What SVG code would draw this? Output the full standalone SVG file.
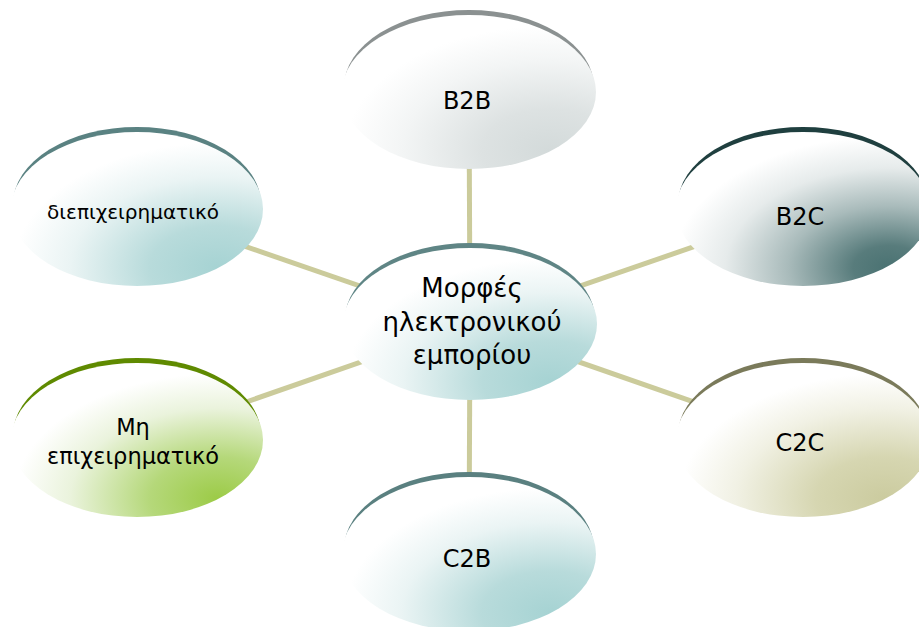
<svg xmlns="http://www.w3.org/2000/svg" width="919" height="627" viewBox="0 0 919 627">
<style>
.lbl{font-family:"DejaVu Sans","Noto Sans",sans-serif;fill:#000;text-anchor:middle;dominant-baseline:central}
.conn{stroke:#cbcb9b;stroke-width:5;fill:none}
</style>
<defs>
<radialGradient id="gGray" cx="0.82" cy="0.88" r="0.9">
<stop offset="0" stop-color="#d3dada"/><stop offset="0.3" stop-color="#dde2e2"/><stop offset="0.65" stop-color="#f3f5f5"/><stop offset="0.9" stop-color="#ffffff"/>
</radialGradient>
<radialGradient id="gDark" cx="0.84" cy="0.88" r="0.95">
<stop offset="0" stop-color="#4a7272"/><stop offset="0.15" stop-color="#587c7c"/><stop offset="0.42" stop-color="#a9bbbb"/><stop offset="0.68" stop-color="#e6ebeb"/><stop offset="0.9" stop-color="#ffffff"/>
</radialGradient>
<radialGradient id="gOlive" cx="0.82" cy="0.88" r="0.9">
<stop offset="0" stop-color="#cbcb9f"/><stop offset="0.3" stop-color="#d6d6b1"/><stop offset="0.65" stop-color="#f1f1e4"/><stop offset="0.9" stop-color="#ffffff"/>
</radialGradient>
<radialGradient id="gTeal" cx="0.82" cy="0.88" r="0.9">
<stop offset="0" stop-color="#a6d3d3"/><stop offset="0.3" stop-color="#b8dbdb"/><stop offset="0.65" stop-color="#eaf4f4"/><stop offset="0.9" stop-color="#ffffff"/>
</radialGradient>
<radialGradient id="gGreen" cx="0.82" cy="0.88" r="0.9">
<stop offset="0" stop-color="#9ccb47"/><stop offset="0.3" stop-color="#b5d87a"/><stop offset="0.65" stop-color="#eaf3dc"/><stop offset="0.9" stop-color="#ffffff"/>
</radialGradient>
</defs>
<g id="connectors">
<line class="conn" x1="470" y1="324" x2="469" y2="92"/>
<line class="conn" x1="470" y1="324" x2="803" y2="209"/>
<line class="conn" x1="470" y1="324" x2="803" y2="440"/>
<line class="conn" x1="470" y1="324" x2="469" y2="554"/>
<line class="conn" x1="470" y1="324" x2="137" y2="440"/>
<line class="conn" x1="470" y1="324" x2="137" y2="209"/>
</g>
<g id="center">
<ellipse cx="470" cy="319" rx="125" ry="76" fill="#5f8585"/>
<ellipse cx="470" cy="324" rx="127" ry="76" fill="url(#gTeal)"/>
<text class="lbl" x="472" y="288" font-size="26">Μορφές</text>
<text class="lbl" x="472" y="322" font-size="26">ηλεκτρονικού</text>
<text class="lbl" x="472" y="355" font-size="26">εμπορίου</text>
</g>
<g id="b2b">
<ellipse cx="469" cy="87" rx="125" ry="77" fill="#8b9191"/>
<ellipse cx="469" cy="92" rx="127" ry="77" fill="url(#gGray)"/>
<text class="lbl" x="467" y="101" font-size="24">B2B</text>
</g>
<g id="b2c">
<ellipse cx="803" cy="204" rx="125" ry="77" fill="#1f3f3f"/>
<ellipse cx="803" cy="209" rx="127" ry="77" fill="url(#gDark)"/>
<text class="lbl" x="800" y="217" font-size="24">B2C</text>
</g>
<g id="c2c">
<ellipse cx="803" cy="435" rx="125" ry="77" fill="#7a7a5a"/>
<ellipse cx="803" cy="440" rx="127" ry="77" fill="url(#gOlive)"/>
<text class="lbl" x="800" y="443" font-size="24">C2C</text>
</g>
<g id="c2b">
<ellipse cx="469" cy="549" rx="125" ry="77" fill="#5a8080"/>
<ellipse cx="469" cy="554" rx="127" ry="77" fill="url(#gTeal)"/>
<text class="lbl" x="467" y="559" font-size="24">C2B</text>
</g>
<g id="mi-epixeirimatiko">
<ellipse cx="137" cy="435" rx="124" ry="77" fill="#5f8a00"/>
<ellipse cx="137" cy="440" rx="126" ry="77" fill="url(#gGreen)"/>
<text class="lbl" x="133" y="427" font-size="22.5">Μη</text>
<text class="lbl" x="133" y="456" font-size="22.5">επιχειρηματικό</text>
</g>
<g id="diepixeirimatiko">
<ellipse cx="137" cy="204" rx="124" ry="77" fill="#5a8282"/>
<ellipse cx="137" cy="209" rx="126" ry="77" fill="url(#gTeal)"/>
<text class="lbl" x="133" y="212" font-size="20">διεπιχειρηματικό</text>
</g>
</svg>
